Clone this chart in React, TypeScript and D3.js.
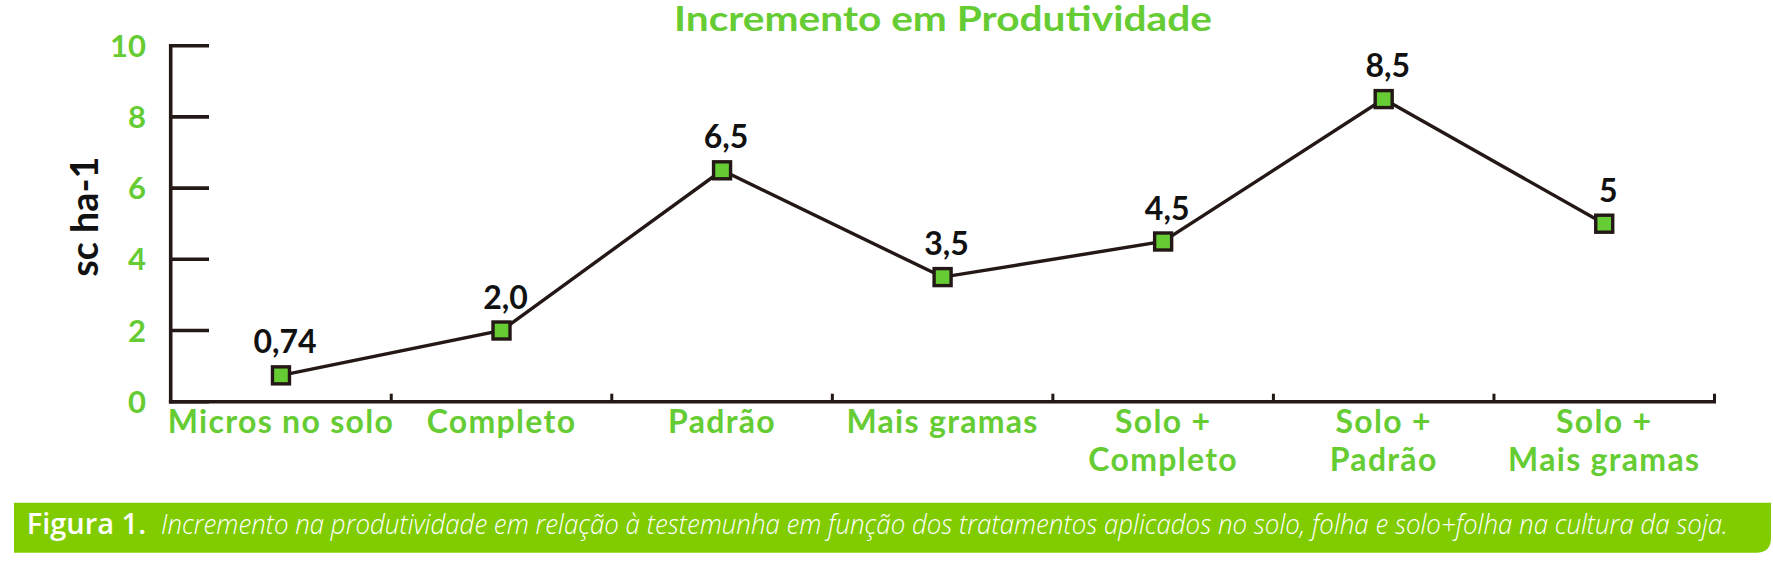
import React from "react";
import * as d3 from "d3";

const title = "Incremento em Produtividade";
const yAxisTitle = "sc ha-1";
const categories = [
  "Micros no solo",
  "Completo",
  "Padrão",
  "Mais gramas",
  "Solo +\nCompleto",
  "Solo +\nPadrão",
  "Solo +\nMais gramas",
];
const values = [0.74, 2.0, 6.5, 3.5, 4.5, 8.5, 5];
const valueLabels = ["0,74", "2,0", "6,5", "3,5", "4,5", "8,5", "5"];
const yTicks = [0, 2, 4, 6, 8, 10];
const captionBold = "Figura 1.";
const captionText =
  "Incremento na produtividade em relação à testemunha em função dos tratamentos aplicados no solo, folha e solo+folha na cultura da soja.";

const W = 1773;
const H = 566;
const GREEN = "#66cc33";
const BAR = "#80cc00";
const INK = "#231815";

export default function App() {
  const x = d3.scaleBand<string>().domain(categories).range([170.7, 1714.5]).padding(0);
  const y = d3.scaleLinear().domain([0, 10]).range([401.7, 45.7]);
  const line = d3
    .line<number>()
    .x((_, i) => (x(categories[i]) as number) + x.bandwidth() / 2)
    .y((d) => y(d));
  const boundaries = categories.map((c) => (x(c) as number) + x.bandwidth());
  const x0 = x.range()[0];
  const sq = 17;

  return (
    <svg
      width={W}
      height={H}
      style={{ position: "absolute", left: 0, top: 0, background: "#fff" }}
      fontFamily="Lato, 'Open Sans', sans-serif"
    >
      {/* title */}
      <text
        x={943}
        y={31}
        textAnchor="middle"
        fontSize={34}
        fontWeight={700}
        fill={GREEN}
        textLength={538}
        lengthAdjust="spacingAndGlyphs"
      >
        {title}
      </text>

      {/* y axis title */}
      <text
        transform={`translate(98,216.7) rotate(-90)`}
        textAnchor="middle"
        fontSize={38}
        fontWeight={700}
        fill="#111"
        textLength={120}
        lengthAdjust="spacingAndGlyphs"
      >
        {yAxisTitle}
      </text>

      {/* y ticks and labels */}
      {yTicks.map((t) => (
        <g key={t}>
          <line x1={x0} x2={209} y1={y(t)} y2={y(t)} stroke={INK} strokeWidth={3.6} />
          <text
            x={146}
            y={y(t)}
            dy="0.36em"
            textAnchor="end"
            fontSize={31}
            fontWeight={700}
            fill={GREEN}
          >
            {t}
          </text>
        </g>
      ))}

      {/* y axis line */}
      <line x1={x0} x2={x0} y1={y(10) - 1.8} y2={y(0) + 1.8} stroke={INK} strokeWidth={3.6} />

      {/* x axis */}
      <line x1={x0 - 1.8} x2={x.range()[1] + 1.5} y1={y(0)} y2={y(0)} stroke={INK} strokeWidth={3.4} />
      {boundaries.map((b, i) => (
        <line key={i} x1={b} x2={b} y1={y(0)} y2={y(0) - 8} stroke={INK} strokeWidth={3} />
      ))}

      {/* x labels */}
      {categories.map((c) => {
        const cx = (x(c) as number) + x.bandwidth() / 2;
        const lines = c.split("\n");
        return (
          <text
            key={c}
            textAnchor="middle"
            fontSize={32}
            fontWeight={700}
            letterSpacing={1.3}
            fill={GREEN}
          >
            {lines.map((l, j) => (
              <tspan key={j} x={cx} y={433.3 + j * 38}>
                {l}
              </tspan>
            ))}
          </text>
        );
      })}

      {/* data line */}
      <path d={line(values) || ""} fill="none" stroke={INK} strokeWidth={3.4} strokeLinejoin="miter" />

      {/* markers and value labels */}
      {values.map((v, i) => {
        const cx = (x(categories[i]) as number) + x.bandwidth() / 2;
        const cy = y(v);
        return (
          <g key={i}>
            <rect
              x={cx - sq / 2}
              y={cy - sq / 2}
              width={sq}
              height={sq}
              fill={GREEN}
              stroke={INK}
              strokeWidth={3.4}
            />
            <text
              x={cx + 4}
              y={cy - 22}
              textAnchor="middle"
              fontSize={32}
              fontWeight={700}
              fill="#111"
            >
              {valueLabels[i]}
            </text>
          </g>
        );
      })}

      {/* caption bar */}
      <path
        d={`M14,502.7 H1771 V538 Q1771,552.7 1756,552.7 H14 Z`}
        fill={BAR}
      />
      <text x={26.7} y={534.3} fontFamily="'Open Sans', sans-serif" fontSize={29} fontWeight={600} fill="#fff">
        {captionBold}
      </text>
      <text
        x={161}
        y={534.3}
        fontFamily="'Open Sans', sans-serif"
        fontSize={27}
        fontWeight={300}
        fontStyle="italic"
        fill="#fff"
        textLength={1567}
        lengthAdjust="spacingAndGlyphs"
      >
        {captionText}
      </text>
    </svg>
  );
}
